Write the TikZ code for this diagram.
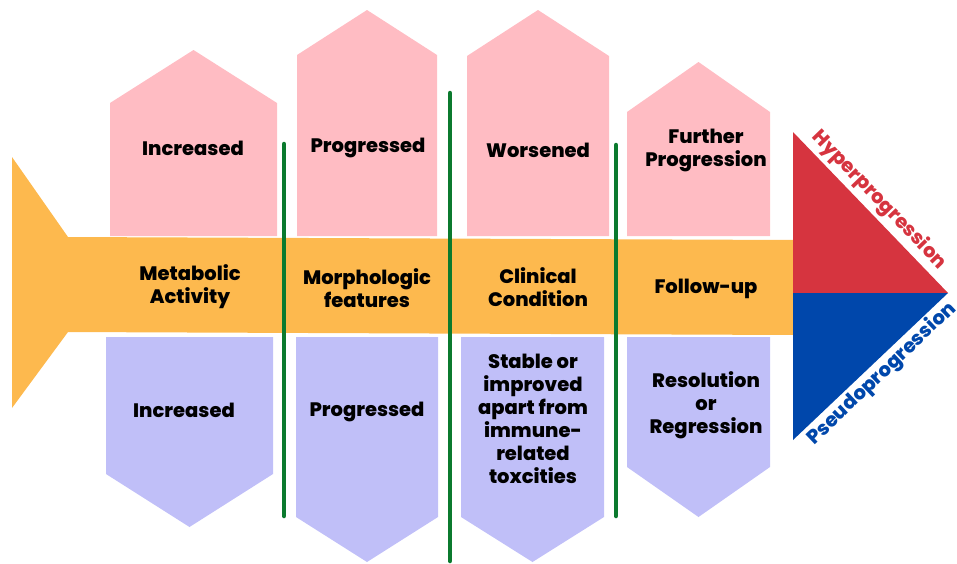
\documentclass[tikz,border=0pt]{standalone}
\usepackage{fontspec}
\setmainfont{Poppins}[BoldFont={Poppins ExtraBold}]
\definecolor{fishbody}{HTML}{FDB94E}
\definecolor{upbox}{HTML}{FFBCC3}
\definecolor{downbox}{HTML}{C0BFF8}
\definecolor{hyperred}{HTML}{D6343F}
\definecolor{pseudoblue}{HTML}{0047AB}
\definecolor{bonegreen}{HTML}{0B7A2E}
\tikzset{
  lbl/.style={font=\fontsize{19.5}{23}\selectfont\bfseries, align=center, text=black},
  bone/.style={bonegreen, line width=4.5pt, line cap=round},
  tri/.style={font=\fontsize{19.5}{22}\selectfont\bfseries}
}
\begin{document}
\begin{tikzpicture}[x=1pt,y=-1pt]
  \useasboundingbox (0,0) rectangle (957,563);
  % fish body and tail
  \fill[fishbody] (12,157) -- (68,237) -- (795,240) -- (795,335) -- (68,332)
    -- (12,408) -- cycle;
  % upper boxes
  \foreach \l/\r/\a/\s in {110/277/50/103, 297/437/10/55, 467/609/10/56, 627/770/62/112} {
    \fill[upbox] (\l,236) -- (\l,\s) -- ({(\l+\r)/2},\a) -- (\r,\s) -- (\r,236) -- cycle;
  }
  % lower boxes
  \foreach \l/\r/\a/\s in {106/273/527/474, 296/438/562/517, 461/604/562/517, 627/770/517/467} {
    \fill[downbox] (\l,337) -- (\l,\s) -- ({(\l+\r)/2},\a) -- (\r,\s) -- (\r,337) -- cycle;
  }
  % head
  \fill[hyperred] (793,132) -- (948,293) -- (793,293) -- cycle;
  \fill[pseudoblue] (793,293) -- (948,293) -- (793,440) -- cycle;
  \node[tri, text=hyperred, rotate=-46] (hyper) at (879,200) {Hyperprogression};
  \node[tri, text=pseudoblue, rotate=43.5] (pseudo) at (882,374) {Pseudoprogression};
  % green bones
  \coordinate (b1t) at (284,144); \coordinate (b1b) at (284,516);
  \coordinate (b2t) at (450,93);  \coordinate (b2b) at (450,561);
  \coordinate (b3t) at (616,145); \coordinate (b3b) at (616,516);
  \draw[bone] (b1t) -- (b1b);
  \draw[bone] (b2t) -- (b2b);
  \draw[bone] (b3t) -- (b3b);
  % labels
  \node[lbl] (up1) at (193,148) {Increased};
  \node[lbl] (up2) at (368,148) {Progressed};
  \node[lbl] (up3) at (538,150) {Worsened};
  \node[lbl] (up4) at (706,150) {Further\\Progression};
  \node[lbl] (mid1) at (190,287) {Metabolic\\Activity};
  \node[lbl] (mid2) at (367,288) {Morphologic\\features};
  \node[lbl] (mid3) at (538,287) {Clinical\\Condition};
  \node[lbl] (mid4) at (706,289) {Follow-up};
  \node[lbl] (dn1) at (184,410) {Increased};
  \node[lbl] (dn2) at (367,412) {Progressed};
  \node[lbl] (dn3) at (533,419) {Stable or\\improved\\apart from\\immune-\\related\\toxcities};
  \node[lbl] (dn4) at (706,405) {Resolution\\or\\Regression};
\end{tikzpicture}
\end{document}
